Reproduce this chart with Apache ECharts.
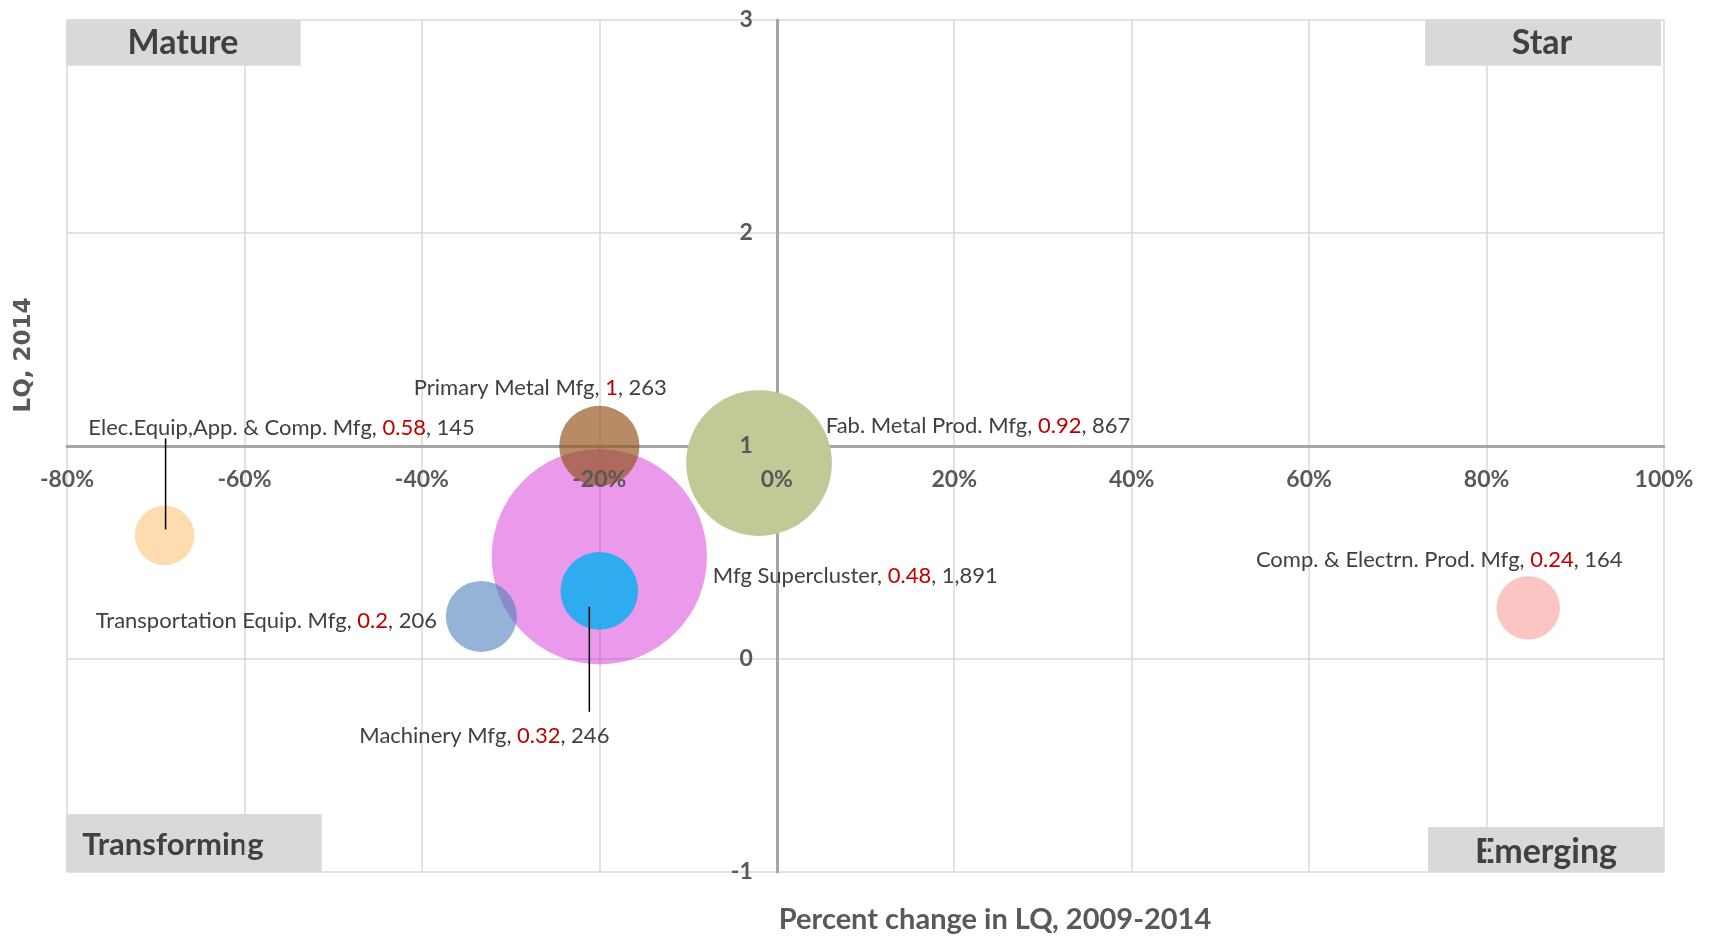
<!DOCTYPE html>
<html><head><meta charset="utf-8">
<script src="https://cdn.jsdelivr.net/npm/echarts@6/dist/echarts.min.js"></script>
<style>html,body{margin:0;padding:0;background:#fff}#c{width:1714px;height:936px}</style>
</head><body><div id="c"></div>
<script>
// ---- data ----
const names = ['Mfg Supercluster', 'Elec.Equip,App. & Comp. Mfg', 'Transportation Equip. Mfg', 'Primary Metal Mfg', 'Machinery Mfg', 'Fab. Metal Prod. Mfg', 'Comp. & Electrn. Prod. Mfg'];
const pctChange = [-20, -69, -33.3, -20, -20, -2, 84.7];      // % change in LQ, 2009-2014
const lq2014 = [0.48, 0.58, 0.2, 1, 0.32, 0.92, 0.24];          // LQ, 2014
const employment = [1891, 145, 206, 263, 246, 867, 164];        // bubble size
const xMin = -80, xMax = 100, xStep = 20;
const yMin = -1, yMax = 3, yStep = 1;
const quadrants = ['Mature', 'Star', 'Transforming', 'Emerging'];
const xTitle = 'Percent change in LQ, 2009-2014';
const yTitle = 'LQ, 2014';

// ---- styles ----
const bubbleColors = ['rgba(204,0,204,0.4)', '#fedcb0', 'rgba(79,129,189,0.6)', 'rgba(148,84,28,0.68)', 'rgba(0,176,240,0.8)', '#bfca96', '#fac5c2'];
const labelOffsets = [[256, 19], [117, -108], [-215, 5], [-59, -58], [-115, 145], [219, -37], [-89, -48]];
const leaderSpec = {1: {dx: 1, from: -6, to: -97}, 4: {dx: -10, from: 16, to: 121}};
const sizeScale = 4.95;
const tickColor = '#595959';
const textColor = '#404040';

const chart = echarts.init(document.getElementById('c'));

const axisCommon = {type: 'value', axisTick: {show: false}};
const xLabelAxis = Object.assign({}, axisCommon, {
  min: xMin, max: xMax, interval: xStep, position: 'bottom',
  axisLine: {show: false, onZero: false}, splitLine: {show: false}, z: 10,
  axisLabel: {formatter: v => v + '%', color: tickColor, fontFamily: 'Lato', fontWeight: 'bold', fontSize: 23, margin: 22}
});
const yLabelAxis = Object.assign({}, axisCommon, {
  min: yMin, max: yMax, interval: yStep, position: 'left',
  axisLine: {show: false, onZero: false}, splitLine: {show: false}, z: 10,
  axisLabel: {color: tickColor, fontFamily: 'Lato', fontWeight: 'bold', fontSize: 23, margin: 24}
});

const option = {
  animation: false,
  grid: {left: 67, right: 50, top: 20, bottom: 64},
  xAxis: [
    Object.assign({}, axisCommon, {
      min: xMin, max: xMax, interval: xStep, position: 'bottom', z: 0,
      axisLine: {show: true, onZero: false, lineStyle: {color: '#a6a6a6', width: 3}},
      axisLabel: {show: false},
      splitLine: {show: true, lineStyle: {color: '#d9d9d9', width: 1.5}}
    }),
    xLabelAxis
  ],
  yAxis: [
    Object.assign({}, axisCommon, {
      min: yMin, max: yMax, interval: yStep, position: 'left', z: 0,
      axisLine: {show: true, onZero: false, lineStyle: {color: '#a6a6a6', width: 3}},
      axisLabel: {show: false},
      splitLine: {show: true, lineStyle: {color: '#d9d9d9', width: 1.5}}
    }),
    yLabelAxis
  ],
  graphic: [],
  series: [
    {
      type: 'scatter', z: 2,
      symbolSize: v => sizeScale * Math.sqrt(v[2]),
      data: names.map((n, i) => ({
        name: n, value: [pctChange[i], lq2014[i], employment[i]],
        itemStyle: {color: bubbleColors[i], opacity: 1},
        label: {offset: labelOffsets[i]}
      })),
      label: {
        show: true, position: 'inside',
        formatter: p => '{n|' + p.name + ', }{r|' + p.value[1] + '}{n|, ' + p.value[2].toLocaleString('en-US') + '}',
        rich: {
          n: {color: textColor, fontFamily: 'Lato', fontSize: 22},
          r: {color: '#c00000', fontFamily: 'Lato', fontSize: 22}
        }
      },
      emphasis: {disabled: true}
    },
    {
      type: 'custom', z: 5, silent: true,
      data: Object.keys(leaderSpec).map(k => [pctChange[k], lq2014[k], +k]),
      encode: {x: 0, y: 1},
      renderItem: (params, api) => {
        const c = api.coord([api.value(0), api.value(1)]);
        const s = leaderSpec[api.value(2)];
        return {type: 'line', shape: {x1: c[0] + s.dx, y1: c[1] + s.from, x2: c[0] + s.dx, y2: c[1] + s.to},
                style: {stroke: '#000', lineWidth: 1.5}};
      }
    }
  ]
};

// quadrant boxes & axis titles
function box(x, y, w, h, text, tx, ty, size) {
  return {type: 'group', z: 20, children: [
    {type: 'rect', shape: {x: x, y: y, width: w, height: h}, style: {fill: '#d9d9d9'}},
    {type: 'text', x: tx, y: ty, style: {text: text, fill: textColor, font: 'bold ' + size + 'px Lato', align: 'center', verticalAlign: 'middle'}}
  ]};
}
option.graphic.push(box(66.7, 19.7, 234, 46, quadrants[0], 183, 43, 34));
option.graphic.push(box(1425, 19.7, 236, 46, quadrants[1], 1542, 43, 34));
option.graphic.push(box(66.7, 814, 255, 58, quadrants[2], 173, 845, 31));
option.graphic.push(box(1428, 827, 236, 45, quadrants[3], 1546, 852, 34));
option.graphic.push({type: 'text', z: 20, x: 995, y: 920, style: {text: xTitle, fill: tickColor, font: 'bold 29px Lato', align: 'center', verticalAlign: 'middle'}});
option.graphic.push({type: 'text', z: 20, x: 24, y: 355, rotation: Math.PI / 2, style: {text: yTitle, fill: tickColor, font: 'bold 23px "DejaVu Sans"', align: 'center', verticalAlign: 'middle'}});

chart.setOption(option);

// place axes so they cross at x = 0 and y = 1
const pCross = chart.convertToPixel({gridIndex: 0}, [0, 1]);
const pCorner = chart.convertToPixel({gridIndex: 0}, [xMin, yMin]);
const xOff = pCross[1] - pCorner[1];
const yOff = pCorner[0] - pCross[0];
chart.setOption({xAxis: [{offset: xOff}, {offset: xOff}], yAxis: [{offset: yOff}, {offset: yOff}]});
</script>
</body></html>
